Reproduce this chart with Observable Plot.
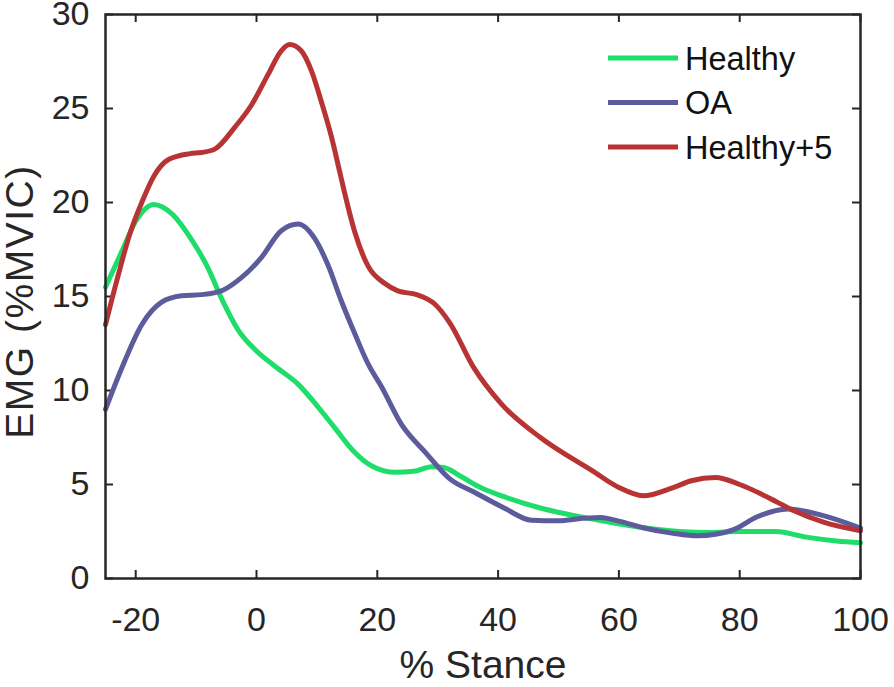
<!DOCTYPE html>
<html>
<head>
<meta charset="utf-8">
<script src="https://cdn.jsdelivr.net/npm/d3@7"></script>
<script src="https://cdn.jsdelivr.net/npm/@observablehq/plot@0.6"></script>
<style>
  html, body { margin: 0; padding: 0; background: #fff; }
  #wrap { position: relative; width: 894px; height: 687px; }
  #wrap svg { overflow: visible; }
  #legend { position: absolute; left: 0; top: 0; pointer-events: none; }
</style>
</head>
<body>
<div id="wrap"></div>
<script>
// ---- data ----
const seriesNames = ["Healthy", "OA", "Healthy+5"];
const seriesColors = ["#1fdd6b", "#5c5c9c", "#b83434"];

const healthyX = [-25,-22.3,-20,-17,-14,-10.7,-8,-5.8,-3,0,3,7,10,13,16,19,23,26,29,31,34,37,41,47,55,63,70,75,80,86,91,96,100];
const healthyY = [15.5,17.4,19.0,19.9,19.4,18.0,16.5,14.9,13.2,12.1,11.3,10.3,9.2,8.0,6.8,6.0,5.65,5.7,5.95,5.9,5.4,4.85,4.35,3.75,3.2,2.75,2.5,2.45,2.5,2.5,2.2,2.0,1.9];

const oaX = [-25,-22.3,-19,-15.7,-12.4,-9.1,-5.8,-2.5,0.8,4.1,6.9,9.6,11.8,14,16.3,18.5,20.7,24,28,32,36,41,45.5,50,54,57,60,64,69,73,76,79,83,88,94,100];
const oaY = [9.0,11.2,13.5,14.7,15.04,15.1,15.3,16.0,17.07,18.5,18.85,18.1,16.7,14.8,13.0,11.4,10.2,8.2,6.7,5.3,4.6,3.75,3.1,3.07,3.2,3.25,3.05,2.7,2.4,2.27,2.35,2.6,3.3,3.7,3.33,2.68];

const plus5X = [-25,-23,-21,-19,-17,-14.5,-11,-9.1,-6.9,-3.6,-0.8,1.9,4.1,5.5,7.4,9.1,10.7,12.4,13.8,14.6,16.3,18.5,21.2,23.4,26.5,29.5,32,36,40.5,47,55.5,60,64,69,72,76,80,86,89,94,100];
const plus5Y = [13.5,16.0,18.3,20.0,21.4,22.3,22.6,22.66,22.84,24.0,25.2,26.8,28.07,28.4,28.07,27.0,25.4,23.5,21.6,20.5,18.4,16.6,15.7,15.3,15.1,14.6,13.6,11.2,9.3,7.5,5.75,4.84,4.4,4.84,5.2,5.37,5.0,4.1,3.6,2.98,2.54];

const xTicks = [-20, 0, 20, 40, 60, 80, 100];
const yTicks = [0, 5, 10, 15, 20, 25, 30];
const xLabel = "% Stance";
const yLabel = "EMG (%MVIC)";

// build tidy table
const rows = [];
[[healthyX, healthyY], [oaX, oaY], [plus5X, plus5Y]].forEach(([xs, ys], i) => {
  xs.forEach((x, j) => rows.push({series: seriesNames[i], x, y: ys[j]}));
});

const W = 894, H = 687;
const mL = 105, mR = 34, mT = 14, mB = 109;
const plotW = W - mL - mR, plotH = H - mT - mB;
const tickLen = 8;
const axisColor = "#262626";
const font = "'Liberation Sans', Arial, Helvetica, sans-serif";

const chart = Plot.plot({
  width: W, height: H,
  marginLeft: mL, marginRight: mR, marginTop: mT, marginBottom: mB,
  style: {fontFamily: font, color: axisColor, background: "#fff", overflow: "visible"},
  x: {domain: [-25, 100]},
  y: {domain: [0, 30]},
  color: {domain: seriesNames, range: seriesColors},
  marks: [
    Plot.axisX(xTicks, {tickSize: 0, tickPadding: 28, fontSize: 34, label: null, fill: axisColor, tickFormat: d => String(d)}),
    Plot.axisY(yTicks, {tickSize: 0, tickPadding: 16, fontSize: 34, label: null, fill: axisColor, tickFormat: d => String(d)}),
    Plot.text([xLabel], {text: d => d, frameAnchor: "bottom", dy: 87, fontSize: 39, lineAnchor: "middle", textAnchor: "middle", fill: axisColor}),
    Plot.text([yLabel], {text: d => d, frameAnchor: "left", dx: -85, dy: 5, rotate: -90, fontSize: 39, lineAnchor: "middle", textAnchor: "middle", fill: axisColor}),
    // inward ticks (bottom/top/left/right)
    Plot.tickX(xTicks, {x: d => d, insetTop: plotH - tickLen, stroke: axisColor, strokeWidth: 2}),
    Plot.tickX(xTicks, {x: d => d, insetBottom: plotH - tickLen, stroke: axisColor, strokeWidth: 2}),
    Plot.tickY(yTicks, {y: d => d, insetRight: plotW - tickLen, stroke: axisColor, strokeWidth: 2}),
    Plot.tickY(yTicks, {y: d => d, insetLeft: plotW - tickLen, stroke: axisColor, strokeWidth: 2}),
    Plot.line(rows, {x: "x", y: "y", z: "series", stroke: "series", strokeWidth: 5, curve: "monotone-x"}),
    Plot.frame({stroke: axisColor, strokeWidth: 2.5})
  ]
});
// letter spacing for the y label
chart.querySelectorAll("text").forEach(t => { if (t.textContent === yLabel) t.setAttribute("letter-spacing", "1.5"); });
document.getElementById("wrap").appendChild(chart);

// legend (inside the axes, top-right)
const ns = "http://www.w3.org/2000/svg";
const leg = document.createElementNS(ns, "svg");
leg.setAttribute("id", "legend");
leg.setAttribute("width", W);
leg.setAttribute("height", H);
const legX0 = 608, legX1 = 678, legTextX = 685, legY0 = 58, legStep = 44.5;
seriesNames.forEach((name, i) => {
  const y = legY0 + i * legStep;
  const ln = document.createElementNS(ns, "line");
  ln.setAttribute("x1", legX0); ln.setAttribute("x2", legX1);
  ln.setAttribute("y1", y); ln.setAttribute("y2", y);
  ln.setAttribute("stroke", seriesColors[i]); ln.setAttribute("stroke-width", 5);
  leg.appendChild(ln);
  const t = document.createElementNS(ns, "text");
  t.setAttribute("x", legTextX); t.setAttribute("y", y);
  t.setAttribute("dy", "0.36em");
  t.setAttribute("font-family", font);
  t.setAttribute("font-size", 32.5);
  t.setAttribute("fill", "#111");
  t.textContent = name;
  leg.appendChild(t);
});
document.getElementById("wrap").appendChild(leg);
</script>
</body>
</html>
